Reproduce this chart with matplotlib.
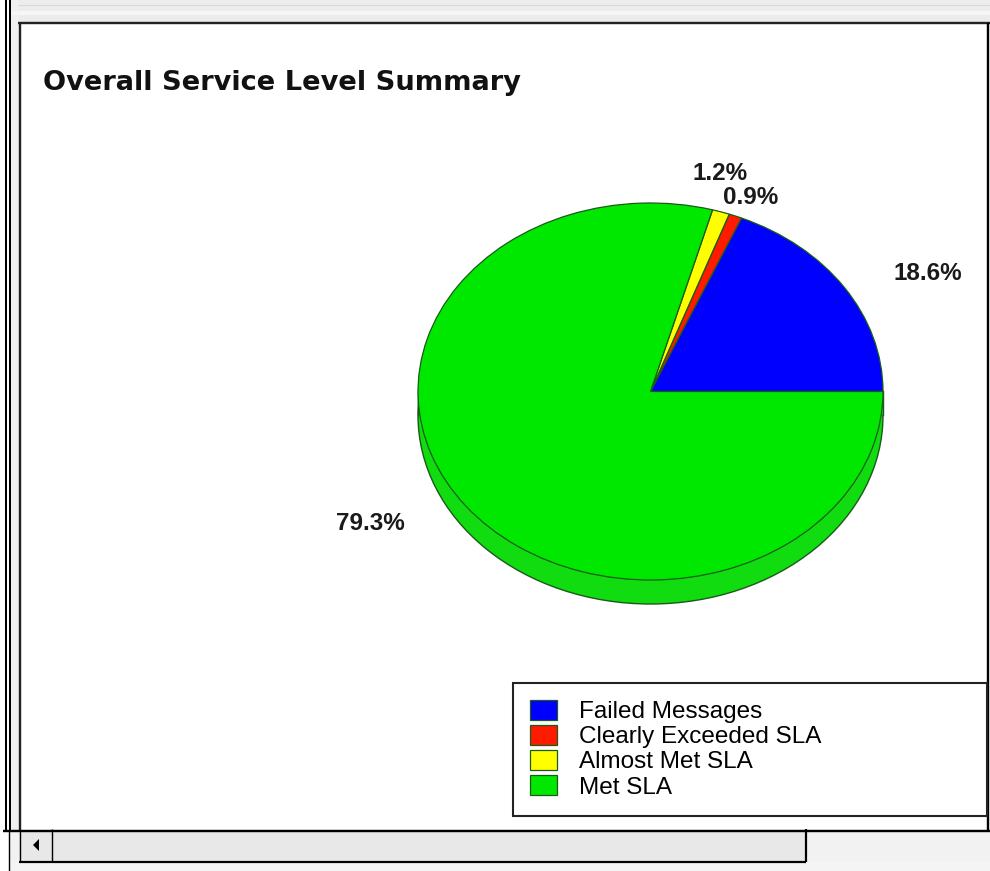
import matplotlib
matplotlib.use("Agg")
import matplotlib.pyplot as plt
from matplotlib.patches import Rectangle, Ellipse, Polygon
from matplotlib.lines import Line2D

# ---- data ----
categories = ["Failed Messages", "Clearly Exceeded SLA", "Almost Met SLA", "Met SLA"]
values = [18.6, 0.9, 1.2, 79.3]
colors = ["#0000ff", "#ff1a00", "#ffff00", "#00e800"]
title = "Overall Service Level Summary"

W, H = 990, 871
fig = plt.figure(figsize=(W / 100, H / 100), dpi=100)
fig.patch.set_facecolor("white")

# ---- screenshot chrome (background axes in pixel coords) ----
bg = fig.add_axes([0, 0, 1, 1])
bg.set_xlim(0, W)
bg.set_ylim(H, 0)
bg.axis("off")
px = 0.72  # points per pixel

def rect(x0, y0, x1, y1, fc, ec="none", lw=0, z=0):
    bg.add_patch(Rectangle((x0, y0), x1 - x0, y1 - y0, facecolor=fc, edgecolor=ec, linewidth=lw, zorder=z))

def line(xs, ys, c="black", lw=1.2, z=3):
    bg.add_line(Line2D(xs, ys, color=c, linewidth=lw * px, zorder=z, solid_capstyle="butt"))

# top gray strip
rect(10, 0, W, 23, "#ececec")
rect(10, 11, W, 15, "#f6f6f6", z=0.5)
line([18, W], [5, 5], c="#d8d8d8", lw=1, z=1)
# left gray strip
rect(10, 0, 19, 831, "#f0f0f0")
# panel
rect(19, 23, 988, 831, "white", z=0.2)
line([18, W], [23.5, 23.5], c="#222222", lw=2.4)
line([19.5, 19.5], [23, 831], c="#222222", lw=2.4)
line([988, 988], [23, 831], c="black", lw=2.4)
# outer double lines
line([5.5, 5.5], [0, 831], lw=2.0)
line([9.5, 9.5], [0, 831], lw=2.0)
line([3, W], [830.5, 830.5], lw=2.4)
line([8.5, 8.5], [831, H], lw=1.4)
# scrollbar area
rect(10, 831, W, 862, "#f2f2f2")
rect(19, 831, 805, 861, "#e8e8e8", z=0.5)
rect(10, 862, W, H, "#f4f4f4")
line([19.5, 19.5], [831, 862], lw=1.4)
line([19, 806], [861.5, 861.5], lw=2.2)
line([805.5, 805.5], [829, 862], lw=2.2)
line([51.5, 51.5], [829, 862], lw=1.4)
bg.add_patch(Polygon([[33, 845], [39, 839], [39, 851]], closed=True, facecolor="black", edgecolor="none", zorder=3))

# ---- title ----
fig.text(43 / W, 1 - 83 / H, title, fontsize=19.6, fontweight="bold",
         family="DejaVu Sans", ha="left", va="center", color="#111111")

# ---- pie ----
cx, cy, a, b, d = 650.5, 391.5, 232.5, 188.5, 24.0
ax = fig.add_axes([(cx - a) / W, (H - (cy + b)) / H, 2 * a / W, 2 * b / H])
ax.axis("off")
labels = [f"{v:.1f}%" for v in values]
wedges, texts = ax.pie(values, colors=colors, startangle=0, counterclock=True, radius=1,
                       labels=labels, labeldistance=1.2,
                       wedgeprops=dict(edgecolor="#1a5a1a", linewidth=0.9),
                       textprops=dict(fontsize=17.5, fontweight="bold", family="Liberation Sans",
                                      color="#1a1a1a"))
ax.set_aspect("auto")
ax.set_xlim(-1, 1)
ax.set_ylim(-1, 1)
for w in wedges:
    w.set_clip_on(False)
    w.set_zorder(2)

dd = d / b
ax.add_patch(Ellipse((0, -dd), 2, 2, facecolor="#10dc10", edgecolor="#1a5a1a", linewidth=1.0,
                     zorder=1, clip_on=False))
ax.add_patch(Rectangle((-1, -dd), 2, dd, facecolor="#10dc10", edgecolor="none", zorder=1.1, clip_on=False))
ax.add_line(Line2D([-1, -1], [-dd, 0], color="#1a5a1a", linewidth=1.0, zorder=1.2, clip_on=False))
ax.add_line(Line2D([1, 1], [-dd, 0], color="#1a5a1a", linewidth=1.0, zorder=1.2, clip_on=False))

# label positions (pixel -> data)
label_px = [(928, 273), (751, 198), (720, 174), (370, 524)]
for t, (lx, ly) in zip(texts, label_px):
    t.set_position(((lx - cx) / a, (cy - ly) / b))
    t.set_ha("center")
    t.set_va("center")

# ---- legend ----
leg = fig.legend(wedges, categories, loc="upper left",
                 bbox_to_anchor=(513 / W, 1 - 810 / H, 474 / W, 127 / H),
                 mode="expand", borderaxespad=0, frameon=True, fancybox=False,
                 prop=dict(family="Liberation Sans", size=17.5),
                 handlelength=1.1, handleheight=0.86, handletextpad=0.9,
                 labelspacing=0.08, borderpad=0.7)
frame = leg.get_frame()
frame.set_edgecolor("#222222")
frame.set_linewidth(1.5)
frame.set_facecolor("white")
frame.set_alpha(1)

fig.savefig("out.png", dpi=100)
